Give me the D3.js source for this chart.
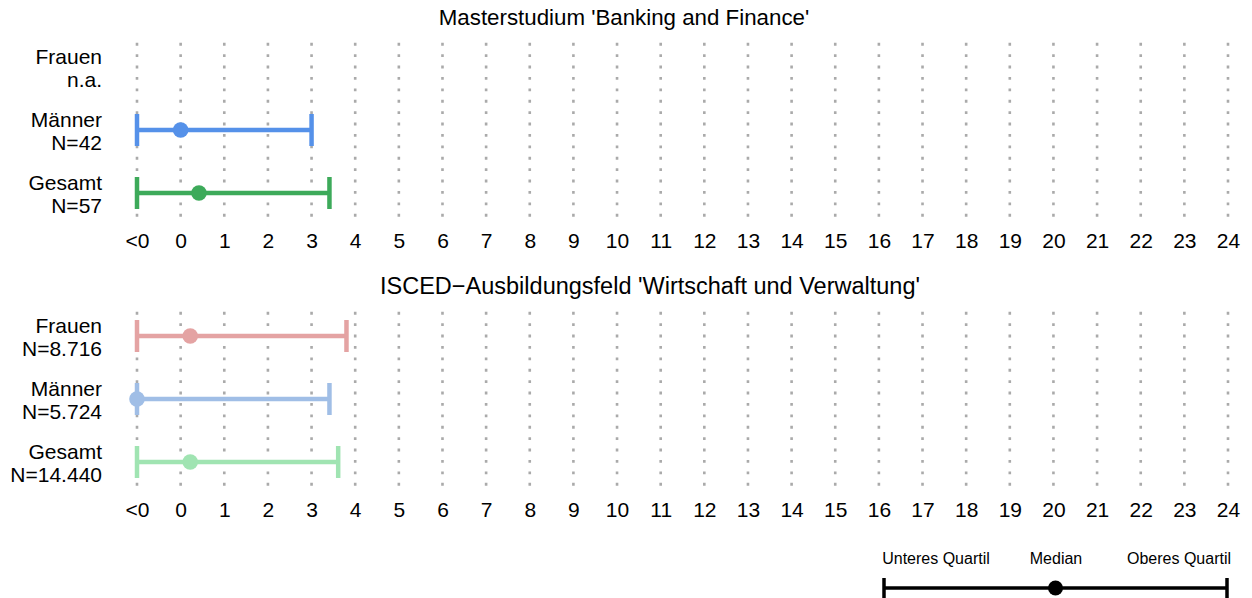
<!DOCTYPE html>
<html>
<head>
<meta charset="utf-8">
<script src="https://cdn.jsdelivr.net/npm/d3@7"></script>
<style>
  body { margin: 0; background: #fff; }
  svg text { font-family: "Liberation Sans", Arial, sans-serif; fill: #000; }
</style>
</head>
<body>
<div id="chart"></div>
<script>
// tick labels of the x axis ("<0" sits one step left of 0)
const tickValues = d3.range(-1, 25);
const tickLabels = ["<0", "0", "1", "2", "3", "4", "5", "6", "7", "8", "9", "10", "11", "12",
  "13", "14", "15", "16", "17", "18", "19", "20", "21", "22", "23", "24"];

const groups = ["Frauen", "Männer", "Gesamt"];

// panel 1: Masterstudium
const title1 = "Masterstudium 'Banking and Finance'";
const nLabels1 = ["n.a.", "N=42", "N=57"];
const lower1 = [null, -1, -1];
const median1 = [null, 0, 0.42];
const upper1 = [null, 3, 3.41];
const colors1 = ["#e3a2a2", "#5591e9", "#3daa5a"];

// panel 2: ISCED field
const title2 = "ISCED\u2212Ausbildungsfeld 'Wirtschaft und Verwaltung'";
const nLabels2 = ["N=8.716", "N=5.724", "N=14.440"];
const lower2 = [-1, -1, -1];
const median2 = [0.22, -1, 0.22];
const upper2 = [3.8, 3.41, 3.61];
const colors2 = ["#e4a3a3", "#a0bee6", "#a0e4b2"];

const legendLabels = ["Unteres Quartil", "Median", "Oberes Quartil"];

const width = 1252, height = 598;
const svg = d3.select("#chart").append("svg")
  .attr("width", width)
  .attr("height", height);

const x = d3.scaleLinear().domain([-1, 24]).range([137, 1228]);

function drawPanel(top, title, titleX, titleSize, nLabels, lower, median, upper, colors) {
  const y = d3.scalePoint().domain(groups).range([top + 23, top + 149]);
  const g = svg.append("g");

  g.append("text")
    .attr("x", titleX)
    .attr("y", top - 19)
    .attr("text-anchor", "middle")
    .style("font-size", titleSize + "px")
    .text(title);

  // dotted vertical grid lines
  g.selectAll("line.grid")
    .data(tickValues)
    .join("line")
    .attr("class", "grid")
    .attr("x1", d => x(d)).attr("x2", d => x(d))
    .attr("y1", top - 1.2).attr("y2", top + 173)
    .attr("stroke", "#aaaaaa")
    .attr("stroke-width", 2.6)
    .attr("stroke-dasharray", "2.85,8.55");

  // x axis
  const axis = g.append("g")
    .attr("transform", `translate(0,${top + 181})`)
    .call(d3.axisBottom(x).tickValues(tickValues).tickSize(0)
      .tickFormat((d, i) => tickLabels[i]));
  axis.select(".domain").remove();
  axis.selectAll("text")
    .attr("dy", "0.71em")
    .attr("y", 8)
    .style("font-size", "21px")
    .style("font-family", "Liberation Sans, Arial, sans-serif");

  // row labels
  const lab = g.selectAll("text.row")
    .data(groups)
    .join("text")
    .attr("class", "row")
    .attr("text-anchor", "end")
    .style("font-size", "21px");
  lab.append("tspan")
    .attr("x", 102).attr("y", d => y(d) - 3)
    .text(d => d);
  lab.append("tspan")
    .attr("x", 102).attr("y", (d, i) => y(d) + 19.5)
    .text((d, i) => nLabels[i]);

  const rows = groups.map((d, i) => ({ g: d, lo: lower[i], med: median[i], hi: upper[i], c: colors[i] }))
    .filter(r => r.lo !== null);

  g.selectAll("line.range")
    .data(rows)
    .join("line")
    .attr("x1", d => x(d.lo)).attr("x2", d => x(d.hi))
    .attr("y1", d => y(d.g)).attr("y2", d => y(d.g))
    .attr("stroke", d => d.c)
    .attr("stroke-width", 4.5);

  const caps = rows.flatMap(r => [{ g: r.g, v: r.lo, c: r.c }, { g: r.g, v: r.hi, c: r.c }]);
  g.selectAll("line.cap")
    .data(caps)
    .join("line")
    .attr("x1", d => x(d.v)).attr("x2", d => x(d.v))
    .attr("y1", d => y(d.g) - 16).attr("y2", d => y(d.g) + 16)
    .attr("stroke", d => d.c)
    .attr("stroke-width", 4.5);

  g.selectAll("circle.med")
    .data(rows)
    .join("circle")
    .attr("cx", d => x(d.med))
    .attr("cy", d => y(d.g))
    .attr("r", 7.8)
    .attr("fill", d => d.c);
}

drawPanel(44, title1, 624, 22.3, nLabels1, lower1, median1, upper1, colors1);
drawPanel(313, title2, 650, 23.5, nLabels2, lower2, median2, upper2, colors2);

// legend
const lx = d3.scaleLinear().domain([0, 1]).range([884, 1227]);
const lg = svg.append("g");
const ly = 588;
lg.append("line")
  .attr("x1", lx(0)).attr("x2", lx(1))
  .attr("y1", ly).attr("y2", ly)
  .attr("stroke", "#000").attr("stroke-width", 3.5);
lg.selectAll("line.cap")
  .data([0, 1])
  .join("line")
  .attr("x1", d => lx(d)).attr("x2", d => lx(d))
  .attr("y1", ly - 10).attr("y2", ly + 10)
  .attr("stroke", "#000").attr("stroke-width", 3.5);
lg.append("circle")
  .attr("cx", lx(0.5)).attr("cy", ly).attr("r", 7.5).attr("fill", "#000");
lg.selectAll("text")
  .data(legendLabels)
  .join("text")
  .attr("x", (d, i) => [936, 1056, 1179][i])
  .attr("y", 564)
  .attr("text-anchor", "middle")
  .style("font-size", "16px")
  .text(d => d);
</script>
</body>
</html>
